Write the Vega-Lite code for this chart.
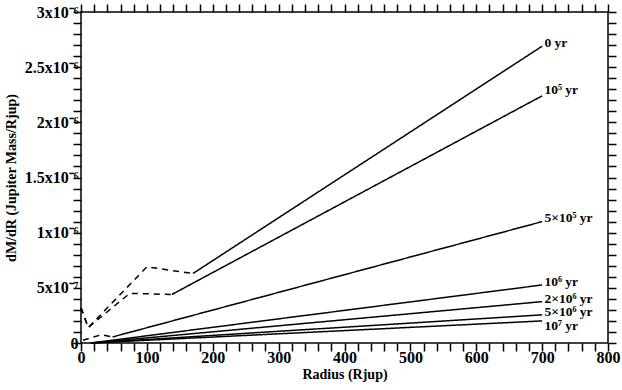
{
  "$schema": "https://vega.github.io/schema/vega-lite/v6.json",
  "width": 527,
  "height": 331,
  "autosize": {"type": "none"},
  "padding": {"left": 81, "top": 12, "right": 14, "bottom": 47},
  "background": "white",
  "config": {
    "view": {"stroke": "black", "strokeWidth": 1.5},
    "font": "Liberation Serif",
    "axis": {
      "domain": false, "grid": false, "ticks": true, "tickColor": "#000000", "tickWidth": 1.5, "tickSize": 8,
      "labelFont": "Liberation Serif", "labelFontWeight": "bold", "labelFontSize": 16, "labelColor": "black",
      "titleFont": "Liberation Serif", "titleFontWeight": "bold", "titleFontSize": 14, "titleColor": "black",
      "labelOverlap": false, "labelFlush": false, "labelBound": false
    }
  },
  "datasets": {
    "lines": [
      {"seg": "0a", "style": "dashed", "r": 0, "v": 3.2e-7},
      {"seg": "0a", "style": "dashed", "r": 11, "v": 1.4e-7},
      {"seg": "0a", "style": "dashed", "r": 100, "v": 6.9e-7},
      {"seg": "0a", "style": "dashed", "r": 170, "v": 6.3e-7},
      {"seg": "0b", "style": "solid", "r": 170, "v": 6.3e-7},
      {"seg": "0b", "style": "solid", "r": 700, "v": 2.69e-6},
      {"seg": "1a", "style": "dashed", "r": 0, "v": 3.2e-7},
      {"seg": "1a", "style": "dashed", "r": 11, "v": 1.4e-7},
      {"seg": "1a", "style": "dashed", "r": 74, "v": 4.5e-7},
      {"seg": "1a", "style": "dashed", "r": 138, "v": 4.4e-7},
      {"seg": "1b", "style": "solid", "r": 138, "v": 4.4e-7},
      {"seg": "1b", "style": "solid", "r": 700, "v": 2.24e-6},
      {"seg": "2a", "style": "dashed", "r": 3, "v": 2.5e-8},
      {"seg": "2a", "style": "dashed", "r": 31, "v": 7.5e-8},
      {"seg": "2a", "style": "dashed", "r": 48, "v": 5.5e-8},
      {"seg": "2b", "style": "solid", "r": 48, "v": 5.5e-8},
      {"seg": "2b", "style": "solid", "r": 700, "v": 1.1e-6},
      {"seg": "3", "style": "solid", "r": 15, "v": 0},
      {"seg": "3", "style": "solid", "r": 700, "v": 5.26e-7},
      {"seg": "4", "style": "solid", "r": 15, "v": 0},
      {"seg": "4", "style": "solid", "r": 700, "v": 3.75e-7},
      {"seg": "5", "style": "solid", "r": 15, "v": 0},
      {"seg": "5", "style": "solid", "r": 700, "v": 2.55e-7},
      {"seg": "6", "style": "solid", "r": 15, "v": 0},
      {"seg": "6", "style": "solid", "r": 700, "v": 2.0e-7}
    ],
    "labels": [
      {"label": "0 yr", "r": 702, "v": 2.72e-6},
      {"label": "10⁵ yr", "r": 702, "v": 2.29e-6},
      {"label": "5×10⁵ yr", "r": 702, "v": 1.13e-6},
      {"label": "10⁶ yr", "r": 702, "v": 5.5e-7},
      {"label": "2×10⁶ yr", "r": 702, "v": 4.02e-7},
      {"label": "5×10⁶ yr", "r": 702, "v": 2.8e-7},
      {"label": "10⁷ yr", "r": 702, "v": 1.5e-7}
    ]
  },
  "layer": [
    {
      "data": {"name": "lines"},
      "mark": {"type": "line", "color": "black", "strokeWidth": 1.5},
      "encoding": {
        "x": {
          "field": "r", "type": "quantitative",
          "scale": {"domain": [0, 800], "nice": false, "zero": false},
          "axis": {
            "orient": "bottom", "title": "Radius (Rjup)", "titlePadding": 2,
            "values": [0,20,40,60,80,100,120,140,160,180,200,220,240,260,280,300,320,340,360,380,400,420,440,460,480,500,520,540,560,580,600,620,640,660,680,700,720,740,760,780,800],
            "labelExpr": "datum.value % 100 == 0 ? datum.label : ''",
            "labelPadding": -2,
            "encode": {"ticks": {"update": {"y2": {"signal": "datum.value % 100 == 0 ? -8 : -4"}}}}
          }
        },
        "y": {
          "field": "v", "type": "quantitative",
          "scale": {"domain": [0, 3e-6], "nice": false, "zero": false},
          "axis": {
            "orient": "left", "title": "dM/dR  (Jupiter Mass/Rjup)", "titlePadding": 6,
            "values": [0,1e-7,2e-7,3e-7,4e-7,5e-7,6e-7,7e-7,8e-7,9e-7,1e-6,1.1e-6,1.2e-6,1.3e-6,1.4e-6,1.5e-6,1.6e-6,1.7e-6,1.8e-6,1.9e-6,2e-6,2.1e-6,2.2e-6,2.3e-6,2.4e-6,2.5e-6,2.6e-6,2.7e-6,2.8e-6,2.9e-6,3e-6],
            "labelExpr": "round(datum.value*1e7) == 0 ? '0' : (round(datum.value*1e7) % 5 != 0 ? '' : (round(datum.value*1e7) == 5 ? '5x10⁻⁷' : (round(datum.value*1e7)/10) + 'x10⁻⁶'))",
            "labelPadding": -5,
            "encode": {"ticks": {"update": {"x2": {"signal": "round(datum.value*1e7) % 5 == 0 ? 8 : 4"}}}}
          }
        },
        "detail": {"field": "seg"},
        "strokeDash": {
          "field": "style", "type": "nominal",
          "scale": {"domain": ["solid", "dashed"], "range": [[1, 0], [6, 5]]},
          "legend": null
        }
      }
    },
    {
      "data": {"name": "labels"},
      "mark": {"type": "text", "align": "left", "baseline": "middle", "dx": 1, "font": "Liberation Serif", "fontWeight": "bold", "fontSize": 13.5, "color": "black"},
      "encoding": {
        "x": {
          "field": "r", "type": "quantitative",
          "axis": {
            "orient": "top", "title": null, "labels": false,
            "values": [0,20,40,60,80,100,120,140,160,180,200,220,240,260,280,300,320,340,360,380,400,420,440,460,480,500,520,540,560,580,600,620,640,660,680,700,720,740,760,780,800],
            "encode": {"ticks": {"update": {"y2": {"signal": "datum.value % 100 == 0 ? 8 : 4"}}}}
          }
        },
        "y": {
          "field": "v", "type": "quantitative",
          "axis": {
            "orient": "right", "title": null, "labels": false,
            "values": [0,1e-7,2e-7,3e-7,4e-7,5e-7,6e-7,7e-7,8e-7,9e-7,1e-6,1.1e-6,1.2e-6,1.3e-6,1.4e-6,1.5e-6,1.6e-6,1.7e-6,1.8e-6,1.9e-6,2e-6,2.1e-6,2.2e-6,2.3e-6,2.4e-6,2.5e-6,2.6e-6,2.7e-6,2.8e-6,2.9e-6,3e-6],
            "encode": {"ticks": {"update": {"x2": {"signal": "round(datum.value*1e7) % 5 == 0 ? -8 : -4"}}}}
          }
        },
        "text": {"field": "label"}
      }
    }
  ],
  "resolve": {"axis": {"x": "independent", "y": "independent"}}
}
